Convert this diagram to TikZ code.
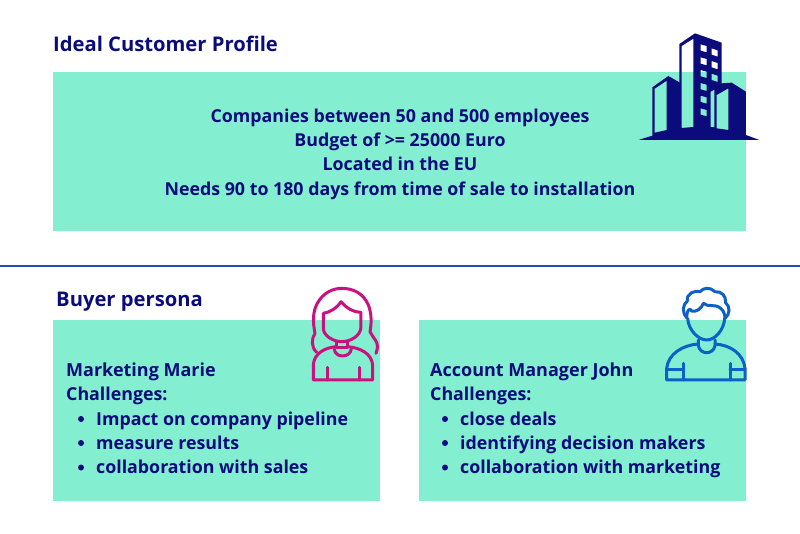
\documentclass[tikz,border=0pt]{standalone}
\usepackage{fontspec}
\setmainfont{Open Sans Bold}
\definecolor{mint}{HTML}{84EED0}
\definecolor{navy}{HTML}{0B0B7C}
\definecolor{pinkline}{HTML}{C9127F}
\definecolor{blueline}{HTML}{0C60C6}
\definecolor{rulecolor}{HTML}{1F4FA8}
\tikzset{
  panel/.style={fill=mint,draw=none,anchor=north west,inner sep=0pt},
  heading/.style={anchor=base west,inner sep=0pt,text=navy,font=\fontsize{20.2}{24}\selectfont},
  bodyline/.style={anchor=base,inner sep=0pt,text=navy,font=\fontsize{17.8}{24}\selectfont},
  listline/.style={anchor=base west,inner sep=0pt,text=navy,font=\fontsize{17.8}{24}\selectfont},
  namelist/.style={anchor=base west,inner sep=0pt,text=navy,font=\fontsize{18}{24}\selectfont},
  dotmark/.style={circle,fill=navy,inner sep=0pt,minimum size=6pt},
  iconline/.style={line width=3pt,line join=round,line cap=round}
}
\begin{document}
\begin{tikzpicture}[x=1pt,y=-1pt]
        \useasboundingbox (0,0) rectangle (800,533);

        % Define panels
        \node[panel,minimum width=693pt,minimum height=159pt] (profile) at (53,72) {};
        \node[panel,minimum width=327pt,minimum height=181pt] (marie) at (53,320) {};
        \node[panel,minimum width=327pt,minimum height=181pt] (john) at (419,320) {};

        % Titles
        \node[heading] (title) at (53,51.5) {Ideal Customer Profile};
        \node[heading] (buyer) at (56,306.5) {Buyer persona};

        % Profile text
        \node[bodyline] (p1) at (400,122) {Companies between 50 and 500 employees};
        \node[bodyline] (p2) at (400,146) {Budget of >= 25000 Euro};
        \node[bodyline] (p3) at (400,170.5) {Located in the EU};
        \node[bodyline] (p4) at (400,195) {Needs 90 to 180 days from time of sale to installation};

        % Divider
        \coordinate (ruleL) at (0,266);
        \coordinate (ruleR) at (800,266);
        \draw[rulecolor,line width=1.4pt] (ruleL) -- (ruleR);

        % Marie
        \node[namelist] (m0) at (66,376.4) {Marketing Marie};
        \node[listline] (m1) at (66,400.5) {Challenges:};
        \node[listline] (m2) at (96,425) {Impact on company pipeline};
        \node[listline] (m3) at (96,449) {measure results};
        \node[listline] (m4) at (96,473.5) {collaboration with sales};
        \node[dotmark] (mb2) at (81,419) {};
        \node[dotmark] (mb3) at (81,443) {};
        \node[dotmark] (mb4) at (81,467.5) {};

        % John
        \node[namelist] (j0) at (430,376.4) {Account Manager John};
        \node[listline] (j1) at (430,400.5) {Challenges:};
        \node[listline] (j2) at (460,425) {close deals};
        \node[listline] (j3) at (460,449) {identifying decision makers};
        \node[listline] (j4) at (460,473.5) {collaboration with marketing};
        \node[dotmark] (jb2) at (445,419) {};
        \node[dotmark] (jb3) at (445,443) {};
        \node[dotmark] (jb4) at (445,467.5) {};

        % Building icon
        \begin{scope}[shift={(620,20)},x=0.3333pt,y=-0.3333pt]
          \fill[navy,even odd rule]
            (56,360) .. controls (100,345) and (140,335) .. (178,327) -- (178,72) -- (225,40) -- (305,68) -- (305,190)
            -- (335,188) -- (378,215) -- (378,345) -- (418,360) -- cycle
            (185,78) -- (220,56) -- (220,321) -- (185,324) -- cycle
            (272,215) -- (283,209) -- (283,322) -- (272,321) -- cycle
            (290,225) -- (325,205) -- (325,330) -- (290,325) -- cycle
            (242,73) -- (260,78) -- (260,97) -- (242,92) -- cycle
            (275,85) -- (293,91) -- (293,110) -- (275,104) -- cycle
            (242,112) -- (260,117) -- (260,136) -- (242,131) -- cycle
            (275,123) -- (293,129) -- (293,148) -- (275,142) -- cycle
            (242,150) -- (260,155) -- (260,174) -- (242,169) -- cycle
            (275,161) -- (293,167) -- (293,186) -- (275,180) -- cycle
            (242,189) -- (260,194) -- (260,213) -- (242,208) -- cycle
            (242,227) -- (260,232) -- (260,251) -- (242,246) -- cycle
            (242,265) -- (260,270) -- (260,289) -- (242,284) -- cycle;
          \fill[navy,even odd rule]
            (180,188) -- (145,168) -- (97,202) -- (97,350) -- (180,335) -- cycle
            (104,206) -- (140,182) -- (140,330) -- (104,338) -- cycle;
        \end{scope}

        % Woman icon
        \begin{scope}[shift={(290,275)},x=0.3333pt,y=-0.3333pt]
          \draw[pinkline,iconline]
            (80,232) .. controls (62,215) and (65,190) .. (75,175)
            .. controls (68,140) and (68,110) .. (82,85)
            .. controls (100,52) and (130,40) .. (155,40)
            .. controls (190,40) and (220,55) .. (235,90)
            .. controls (245,115) and (245,145) .. (240,170)
            .. controls (248,190) and (272,200) .. (258,235);
          \draw[pinkline,iconline]
            (100,115) -- (100,160) .. controls (100,182) and (130,200) .. (155,200)
            .. controls (182,200) and (213,182) .. (213,155) -- (213,112)
            .. controls (190,112) and (170,100) .. (153,80)
            .. controls (140,100) and (120,112) .. (100,115);
          \draw[pinkline,iconline] (140,202) -- (140,218) -- (172,218) -- (172,202);
          \draw[pinkline,iconline] (133,222) .. controls (135,250) and (180,250) .. (184,222);
          \draw[pinkline,iconline]
            (70,315) -- (70,270) .. controls (72,235) and (105,218) .. (138,215)
            (172,215) .. controls (210,218) and (245,235) .. (248,270) -- (248,315) -- (70,315);
          \draw[pinkline,iconline] (112,277) -- (112,315);
          \draw[pinkline,iconline] (210,277) -- (210,315);
        \end{scope}

        % Man icon
        \begin{scope}[shift={(650,275)},x=0.3333pt,y=-0.3333pt]
          \draw[blueline,iconline]
            (110,128) .. controls (95,110) and (98,90) .. (112,78)
            .. controls (108,55) and (135,45) .. (150,50)
            .. controls (160,38) and (180,35) .. (195,50)
            .. controls (215,48) and (230,65) .. (226,82)
            .. controls (242,95) and (240,118) .. (225,130);
          \draw[blueline,iconline]
            (110,128) .. controls (110,108) and (118,95) .. (125,108)
            .. controls (140,112) and (155,100) .. (160,85)
            .. controls (175,98) and (195,85) .. (212,100)
            .. controls (222,108) and (225,120) .. (225,130);
          \draw[blueline,iconline]
            (113,130) .. controls (115,165) and (145,195) .. (170,195)
            .. controls (195,195) and (222,165) .. (224,130);
          \draw[blueline,iconline]
            (145,195) -- (145,212) .. controls (150,240) and (190,240) .. (195,212) -- (195,195);
          \draw[blueline,iconline]
            (50,315) -- (50,280) .. controls (55,235) and (100,210) .. (145,207)
            (195,207) .. controls (240,210) and (280,235) .. (285,280) -- (285,315) -- (50,315);
          \draw[blueline,iconline] (50,283) -- (100,283);
          \draw[blueline,iconline] (100,265) -- (100,315);
          \draw[blueline,iconline] (240,265) -- (240,315);
          \draw[blueline,iconline] (240,283) -- (285,283);
        \end{scope}
    \end{tikzpicture}
\end{document}
